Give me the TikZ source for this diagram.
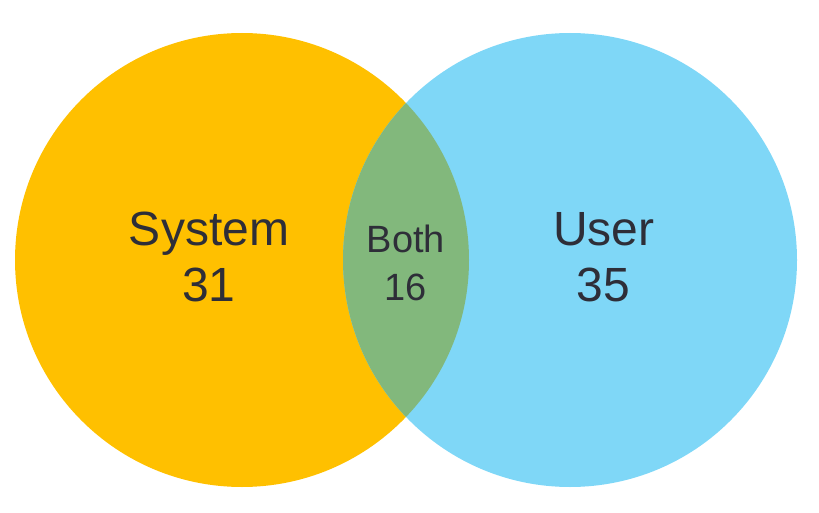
\documentclass[tikz,border=0pt]{standalone}
\usepackage{fontspec}
\setmainfont{Liberation Sans}
\definecolor{sysfill}{HTML}{FFC000}
\definecolor{usrfill}{HTML}{7FD7F7}
\definecolor{bothfill}{HTML}{82B87C}
\definecolor{txt}{HTML}{2E2E38}
\begin{document}
\begin{tikzpicture}[x=1pt,y=-1pt,
  bigtxt/.style={text=txt,font=\fontsize{48}{56}\selectfont,anchor=base,inner sep=0pt},
  smalltxt/.style={text=txt,font=\fontsize{38}{46}\selectfont,anchor=base,inner sep=0pt}]
\useasboundingbox (0,0) rectangle (819,513);
\fill[sysfill] (242,260) circle[radius=227];
\fill[usrfill] (570,260) circle[radius=227];
\begin{scope}
  \clip (242,260) circle[radius=227];
  \fill[bothfill] (570,260) circle[radius=227];
\end{scope}
\node[bigtxt] (sysname) at (209,245) {System};
\node[bigtxt] (sysnum) at (209,301) {31};
\node[bigtxt] (usrname) at (604,245) {User};
\node[bigtxt] (usrnum) at (603,301) {35};
\node[smalltxt] (bothname) at (406,252) {Both};
\node[smalltxt] (bothnum) at (406,300) {16};
\end{tikzpicture}
\end{document}
